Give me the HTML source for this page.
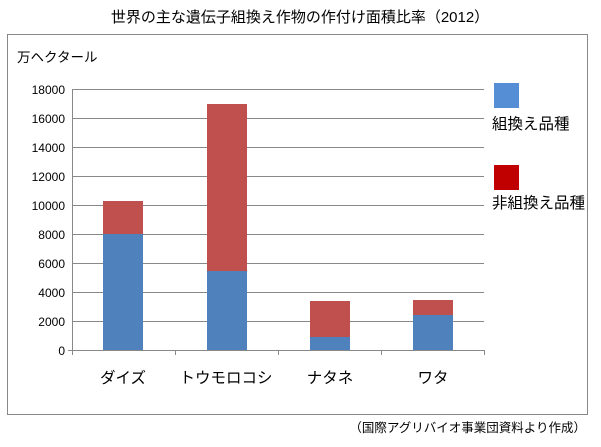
<!DOCTYPE html>
<html><head><meta charset="utf-8"><style>
body{margin:0;background:#fff;}
svg text{font-family:"Liberation Sans","Noto Sans CJK JP",sans-serif;fill:#000;}
</style></head><body>
<svg width="601" height="442" xmlns="http://www.w3.org/2000/svg">
<rect width="601" height="442" fill="#fff"/>
<text x="300" y="22" font-size="15" text-anchor="middle">世界の主な遺伝子組換え作物の作付け面積比率（2012）</text>
<rect x="7.5" y="34.5" width="580" height="380" fill="none" stroke="#888"/>
<text x="17" y="62" font-size="13.5">万ヘクタール</text>
<g stroke="#888" stroke-width="1">
<line x1="72" y1="89.5" x2="484" y2="89.5"/><line x1="72" y1="118.5" x2="484" y2="118.5"/>
<line x1="72" y1="147.5" x2="484" y2="147.5"/><line x1="72" y1="176.5" x2="484" y2="176.5"/>
<line x1="72" y1="205.5" x2="484" y2="205.5"/><line x1="72" y1="234.5" x2="484" y2="234.5"/>
<line x1="72" y1="263.5" x2="484" y2="263.5"/><line x1="72" y1="292.5" x2="484" y2="292.5"/>
<line x1="72" y1="321.5" x2="484" y2="321.5"/><line x1="68" y1="350.5" x2="484" y2="350.5"/>
<line x1="72.5" y1="89" x2="72.5" y2="350"/>
<line x1="72.5" y1="350" x2="72.5" y2="355"/><line x1="175.5" y1="350" x2="175.5" y2="355"/>
<line x1="278.5" y1="350" x2="278.5" y2="355"/><line x1="381.5" y1="350" x2="381.5" y2="355"/>
<line x1="484.5" y1="350" x2="484.5" y2="355"/>
</g>
<g font-size="12" text-anchor="end">
<text x="65" y="94">18000</text><text x="65" y="123">16000</text><text x="65" y="152">14000</text>
<text x="65" y="181">12000</text><text x="65" y="210">10000</text><text x="65" y="239">8000</text>
<text x="65" y="268">6000</text><text x="65" y="297">4000</text><text x="65" y="326">2000</text>
<text x="65" y="355">0</text>
</g>
<rect x="103" y="201" width="40" height="33" fill="#c0504d"/><rect x="103" y="234" width="40" height="116" fill="#4f81bd"/>
<rect x="207" y="104" width="40" height="167" fill="#c0504d"/><rect x="207" y="271" width="40" height="79" fill="#4f81bd"/>
<rect x="310" y="301" width="40" height="36" fill="#c0504d"/><rect x="310" y="337" width="40" height="13" fill="#4f81bd"/>
<rect x="413" y="300" width="40" height="15" fill="#c0504d"/><rect x="413" y="315" width="40" height="35" fill="#4f81bd"/>
<g font-size="15.5" text-anchor="middle">
<text x="123" y="383">ダイズ</text><text x="226" y="383">トウモロコシ</text>
<text x="330" y="383">ナタネ</text><text x="433" y="383">ワタ</text>
</g>
<rect x="494" y="83" width="25" height="25" fill="#558ed5"/>
<text x="492" y="129" font-size="15.5">組換え品種</text>
<rect x="494" y="165" width="25" height="25" fill="#c00000"/>
<text x="492" y="208" font-size="15.5">非組換え品種</text>
<text x="586" y="432" font-size="12.5" text-anchor="end">（国際アグリバイオ事業団資料より作成）</text>
</svg>
</body></html>
